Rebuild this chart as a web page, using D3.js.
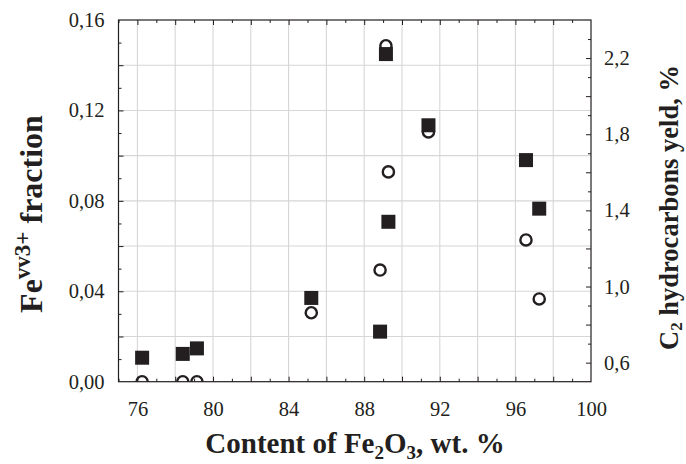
<!DOCTYPE html>
<html><head><meta charset="utf-8">
<script src="https://cdn.jsdelivr.net/npm/d3@7/dist/d3.min.js"></script>
<style>
html,body{margin:0;padding:0;background:#fff;}
text{font-family:"Liberation Serif","Times New Roman",serif;fill:#231f20;}
</style></head>
<body><svg id="chart" width="686" height="464"></svg>
<script>
// ---- data ----
const feContent   = [76.25, 78.4, 79.15, 85.2, 88.84, 89.15, 89.28, 91.4, 96.56, 97.26];
const fe3Fraction = [0, 0, 0, 0.0305, 0.0494, 0.1486, 0.0928, 0.1105, 0.0627, 0.0366];
const c2Yield     = [0.626, 0.646, 0.675, 0.940, 0.763, 2.221, 1.340, 1.847, 1.664, 1.409];
const xTickLabels = [76, 80, 84, 88, 92, 96, 100];
const yLeftTickLabels = [0, 0.04, 0.08, 0.12, 0.16];
const yRightTickLabels = [0.6, 1.0, 1.4, 1.8, 2.2];

const W = 686, H = 464;
const L = 118.5, R = 591, T = 20, B = 381.7;
const svg = d3.select("#chart");
const ink = "#231f20";

const x = d3.scaleLinear().domain([75, 100]).range([L, R]);
const yL = d3.scaleLinear().domain([0, 0.16]).range([B, T]);
const yR = d3.scaleLinear().domain([0.5, 2.4]).range([B, T]);
const fmt = (d, p) => d3.format("." + p + "f")(d).replace(".", ",");

svg.append("clipPath").attr("id", "clip").append("rect")
  .attr("x", L).attr("y", T).attr("width", R - L).attr("height", B - T);

// grid
const gx = d3.range(76, 99, 2), gy = d3.range(0.02, 0.159, 0.02);
svg.append("g").selectAll("line").data(gx).join("line")
  .attr("x1", d => x(d)).attr("x2", d => x(d)).attr("y1", T).attr("y2", B)
  .attr("stroke", "#d6d6d6").attr("stroke-width", 1.1);
svg.append("g").selectAll("line").data(gy).join("line")
  .attr("y1", d => yL(d)).attr("y2", d => yL(d)).attr("x1", L).attr("x2", R)
  .attr("stroke", "#d6d6d6").attr("stroke-width", 1.1);

// points
const pts = feContent.map((v, i) => ({x: v, f: fe3Fraction[i], c: c2Yield[i]}));
const plot = svg.append("g").attr("clip-path", "url(#clip)");
plot.selectAll("circle").data(pts).join("circle")
  .attr("cx", d => x(d.x)).attr("cy", d => yL(d.f)).attr("r", 5.6)
  .attr("fill", "#fff").attr("stroke", ink).attr("stroke-width", 2.4);
plot.selectAll("rect.sq").data(pts).join("rect").attr("class", "sq")
  .attr("x", d => x(d.x) - 7).attr("y", d => yR(d.c) - 7)
  .attr("width", 14).attr("height", 14).attr("fill", ink);

// ticks (inward)
function tickAxis(axisFn, scale, vals, size, tr) {
  svg.append("g").attr("transform", tr)
    .call(axisFn(scale).tickValues(vals).tickSize(size).tickFormat(""))
    .call(g => g.select(".domain").remove())
    .call(g => g.selectAll("line").attr("stroke", ink).attr("stroke-width", 1));
}
const xMaj = d3.range(76, 99, 2), xMin = d3.range(75, 100, 1).filter(d => d % 2 === 1);
tickAxis(d3.axisBottom, x, xMaj, -5, `translate(0,${B})`);
tickAxis(d3.axisBottom, x, xMin, -3, `translate(0,${B})`);
tickAxis(d3.axisTop, x, xMaj, -5, `translate(0,${T})`);
tickAxis(d3.axisTop, x, xMin, -3, `translate(0,${T})`);
const yMaj = d3.range(0.02, 0.159, 0.02), yMin = d3.range(0.01, 0.159, 0.02);
tickAxis(d3.axisLeft, yL, yMaj, -5, `translate(${L},0)`);
tickAxis(d3.axisLeft, yL, yMin, -3, `translate(${L},0)`);
const rMaj = [0.6, 0.8, 1.0, 1.2, 1.4, 1.6, 1.8, 2.0, 2.2], rMin = [0.7, 0.9, 1.1, 1.3, 1.5, 1.7, 1.9, 2.1, 2.3];
tickAxis(d3.axisRight, yR, rMaj, -5, `translate(${R},0)`);
tickAxis(d3.axisRight, yR, rMin, -3, `translate(${R},0)`);

// frame
svg.append("rect").attr("x", L).attr("y", T).attr("width", R - L).attr("height", B - T)
  .attr("fill", "none").attr("stroke", ink).attr("stroke-width", 1.2);

// tick labels
function labelAxis(axisFn, scale, vals, pad, tr, p) {
  const g = svg.append("g").attr("transform", tr)
    .call(axisFn(scale).tickValues(vals).tickSize(0).tickPadding(pad).tickFormat(d => p === null ? d : fmt(d, p)));
  g.select(".domain").remove();
  g.selectAll("text").style("font-size", "20.5px").attr("fill", ink)
    .style("font-family", "'Liberation Serif', serif");
  return g;
}
labelAxis(d3.axisBottom, x, xTickLabels, 20, `translate(0,${B})`, null);
labelAxis(d3.axisLeft, yL, yLeftTickLabels, 14, `translate(${L},0)`, 2);
labelAxis(d3.axisRight, yR, yRightTickLabels, 13, `translate(${R},0)`, 1);

// axis titles
const xt = svg.append("text").attr("x", 355).attr("y", 453).attr("text-anchor", "middle")
  .style("font-size", "29px").style("font-weight", "bold");
xt.append("tspan").text("Content of Fe");
xt.append("tspan").text("2").style("font-size", "19px").attr("dy", 6);
xt.append("tspan").text("O").attr("dy", -6);
xt.append("tspan").text("3").style("font-size", "19px").attr("dy", 6);
xt.append("tspan").text(", wt. %").attr("dy", -6);

const lt = svg.append("text").attr("transform", "translate(42,214) rotate(-90)")
  .attr("text-anchor", "middle").style("font-size", "32px").style("font-weight", "bold");
lt.append("tspan").text("Fe");
lt.append("tspan").text("vv3+").style("font-size", "23px").attr("dy", -12);
lt.append("tspan").text(" fraction").attr("dy", 12);

const rt = svg.append("text").attr("transform", "translate(678,207.5) rotate(-90)")
  .attr("text-anchor", "middle").style("font-size", "26.5px").style("font-weight", "bold");
rt.append("tspan").text("C");
rt.append("tspan").text("2").style("font-size", "17px").attr("dy", 4);
rt.append("tspan").text(" hydrocarbons yeld, %").attr("dy", -4);
</script></body></html>
